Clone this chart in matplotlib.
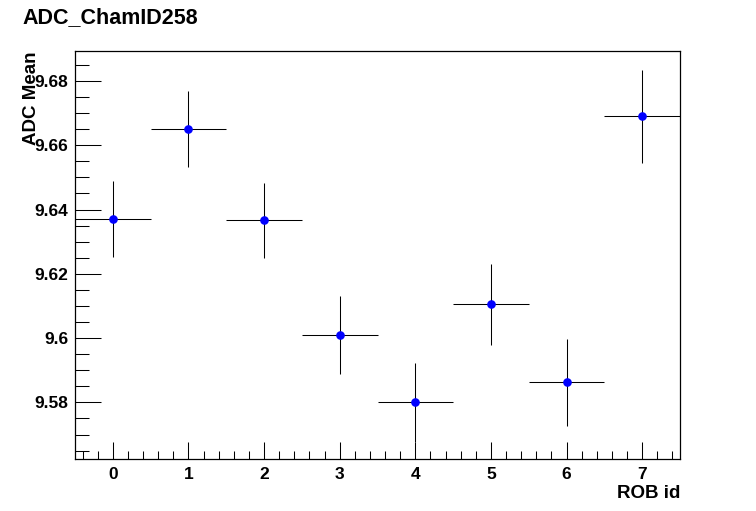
#ADC mean per ROB for one chamber, drawn in ROOT style

#Libraries
import matplotlib
matplotlib.use("Agg")
import matplotlib.pyplot as plt
from matplotlib.ticker import MultipleLocator, FuncFormatter

#Data
rob_id = [0, 1, 2, 3, 4, 5, 6, 7]
adc_mean = [9.6370, 9.6650, 9.6366, 9.6009, 9.5800, 9.6105, 9.5862, 9.6690]
adc_err = [0.0118, 0.0119, 0.0116, 0.0122, 0.0123, 0.0127, 0.0135, 0.0145]
bin_half_width = [0.5] * len(rob_id)

plt.rcParams['font.family'] = ['Liberation Sans', 'DejaVu Sans']
plt.rcParams['font.weight'] = 'bold'

def main():
    fig = plt.figure(figsize=(7.56, 5.11), dpi=100)
    ax = fig.add_axes([75 / 756, 1 - 459 / 511, 605 / 756, 408 / 511])

    ax.errorbar(rob_id, adc_mean, xerr=bin_half_width, yerr=adc_err,
                fmt='o', color='blue', markersize=5.2, ecolor='black',
                elinewidth=0.75, capsize=0, zorder=3)

    ax.set_xlim(-0.5, 7.5)
    ax.set_ylim(9.5624, 9.6893)

    # ROOT style ticks: inside, left/bottom only
    ax.xaxis.set_major_locator(MultipleLocator(1))
    ax.xaxis.set_minor_locator(MultipleLocator(0.2))
    ax.yaxis.set_major_locator(MultipleLocator(0.02))
    ax.yaxis.set_minor_locator(MultipleLocator(0.005))
    ax.yaxis.set_major_formatter(FuncFormatter(lambda v, p: f"{v:g}"))
    ax.tick_params(axis='x', which='major', direction='in', length=12, width=0.75,
                   labelsize=12.5, pad=6)
    ax.tick_params(axis='x', which='minor', direction='in', length=6, width=0.75)
    ax.tick_params(axis='y', which='major', direction='in', length=19, width=0.75,
                   labelsize=12.5, pad=5)
    ax.tick_params(axis='y', which='minor', direction='in', length=10, width=0.75)
    for lbl in ax.get_xticklabels() + ax.get_yticklabels():
        lbl.set_fontweight('bold')
    for sp in ax.spines.values():
        sp.set_linewidth(0.9)

    # Titles
    fig.text(22 / 756, 1 - 18 / 511, 'ADC_ChamID258', fontsize=15.5, fontweight='bold',
             ha='left', va='center')
    fig.text(680 / 756, 1 - 493 / 511, 'ROB id', fontsize=13.5, fontweight='bold',
             ha='right', va='center')
    fig.text(32 / 756, 1 - 51 / 511, 'ADC Mean', fontsize=13.5, fontweight='bold',
             rotation=90, ha='center', va='top')

    fig.savefig('out.png', dpi=100)
    plt.close(fig)

if __name__ == "__main__":
    main()
